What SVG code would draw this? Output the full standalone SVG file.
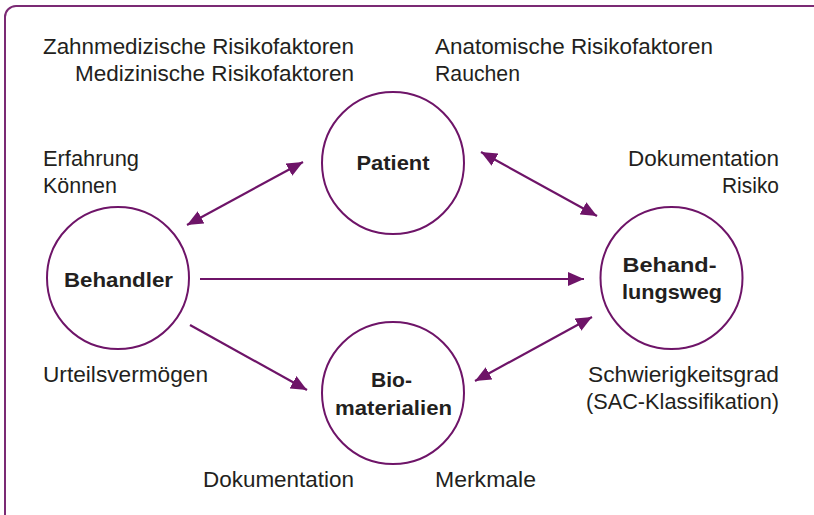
<svg xmlns="http://www.w3.org/2000/svg" width="814" height="515" viewBox="0 0 814 515">
<style>
.frame{fill:none;stroke:#7b2a74;stroke-width:2}
.node circle{fill:#fff;stroke:#6e1468;stroke-width:2}
.lbl{font-family:"Liberation Sans",Arial,sans-serif;font-size:22px;fill:#231f20}
.nl{font-family:"Liberation Sans",Arial,sans-serif;font-size:21px;font-weight:bold;fill:#231f20;text-anchor:middle}
.conn line{stroke:#6e1468;stroke-width:2.2}
</style>
<defs>
<marker id="ah" markerUnits="userSpaceOnUse" markerWidth="17" markerHeight="14" refX="16" refY="7" orient="auto-start-reverse">
<path d="M0,0 L16,7 L0,14 z" fill="#6e1468"/>
</marker>
</defs>
<rect class="frame" x="5" y="6" width="850" height="525" rx="11"/>

<g id="labels">
<text class="lbl" x="43" y="54" textLength="311" lengthAdjust="spacingAndGlyphs">Zahnmedizische Risikofaktoren</text>
<text class="lbl" x="354" y="81" text-anchor="end" textLength="279" lengthAdjust="spacingAndGlyphs">Medizinische Risikofaktoren</text>
<text class="lbl" x="435" y="54" textLength="278" lengthAdjust="spacingAndGlyphs">Anatomische Risikofaktoren</text>
<text class="lbl" x="435" y="81" textLength="85" lengthAdjust="spacingAndGlyphs">Rauchen</text>
<text class="lbl" x="43" y="166" textLength="96" lengthAdjust="spacingAndGlyphs">Erfahrung</text>
<text class="lbl" x="43" y="193" textLength="74" lengthAdjust="spacingAndGlyphs">Können</text>
<text class="lbl" x="779" y="166" text-anchor="end" textLength="151" lengthAdjust="spacingAndGlyphs">Dokumentation</text>
<text class="lbl" x="779" y="193" text-anchor="end" textLength="57" lengthAdjust="spacingAndGlyphs">Risiko</text>
<text class="lbl" x="43" y="382" textLength="165" lengthAdjust="spacingAndGlyphs">Urteilsvermögen</text>
<text class="lbl" x="779" y="382" text-anchor="end" textLength="191" lengthAdjust="spacingAndGlyphs">Schwierigkeitsgrad</text>
<text class="lbl" x="779" y="409" text-anchor="end" textLength="193" lengthAdjust="spacingAndGlyphs">(SAC-Klassifikation)</text>
<text class="lbl" x="203" y="487" textLength="151" lengthAdjust="spacingAndGlyphs">Dokumentation</text>
<text class="lbl" x="435" y="487" textLength="101" lengthAdjust="spacingAndGlyphs">Merkmale</text>
</g>

<g id="connectors" class="conn">
<line x1="187" y1="225" x2="303" y2="162" marker-start="url(#ah)" marker-end="url(#ah)"/>
<line x1="481" y1="152" x2="597" y2="216" marker-start="url(#ah)" marker-end="url(#ah)"/>
<line x1="200" y1="279" x2="584" y2="279" marker-end="url(#ah)"/>
<line x1="190" y1="325" x2="307" y2="390" marker-end="url(#ah)"/>
<line x1="475" y1="381" x2="592" y2="317" marker-start="url(#ah)" marker-end="url(#ah)"/>
</g>

<g id="patient" class="node">
<circle cx="393" cy="163" r="71"/>
<text class="nl" x="393" y="170" textLength="73" lengthAdjust="spacingAndGlyphs">Patient</text>
</g>
<g id="behandler" class="node">
<circle cx="118" cy="278" r="71"/>
<text class="nl" x="118.5" y="287" textLength="109" lengthAdjust="spacingAndGlyphs">Behandler</text>
</g>
<g id="behandlungsweg" class="node">
<circle cx="671.5" cy="278" r="71"/>
<text class="nl" x="669.5" y="272" textLength="94" lengthAdjust="spacingAndGlyphs">Behand-</text>
<text class="nl" x="672" y="299" textLength="100" lengthAdjust="spacingAndGlyphs">lungsweg</text>
</g>
<g id="biomaterialien" class="node">
<circle cx="393" cy="393" r="71"/>
<text class="nl" x="391.5" y="387" textLength="41" lengthAdjust="spacingAndGlyphs">Bio-</text>
<text class="nl" x="393.5" y="415" textLength="117" lengthAdjust="spacingAndGlyphs">materialien</text>
</g>
</svg>
